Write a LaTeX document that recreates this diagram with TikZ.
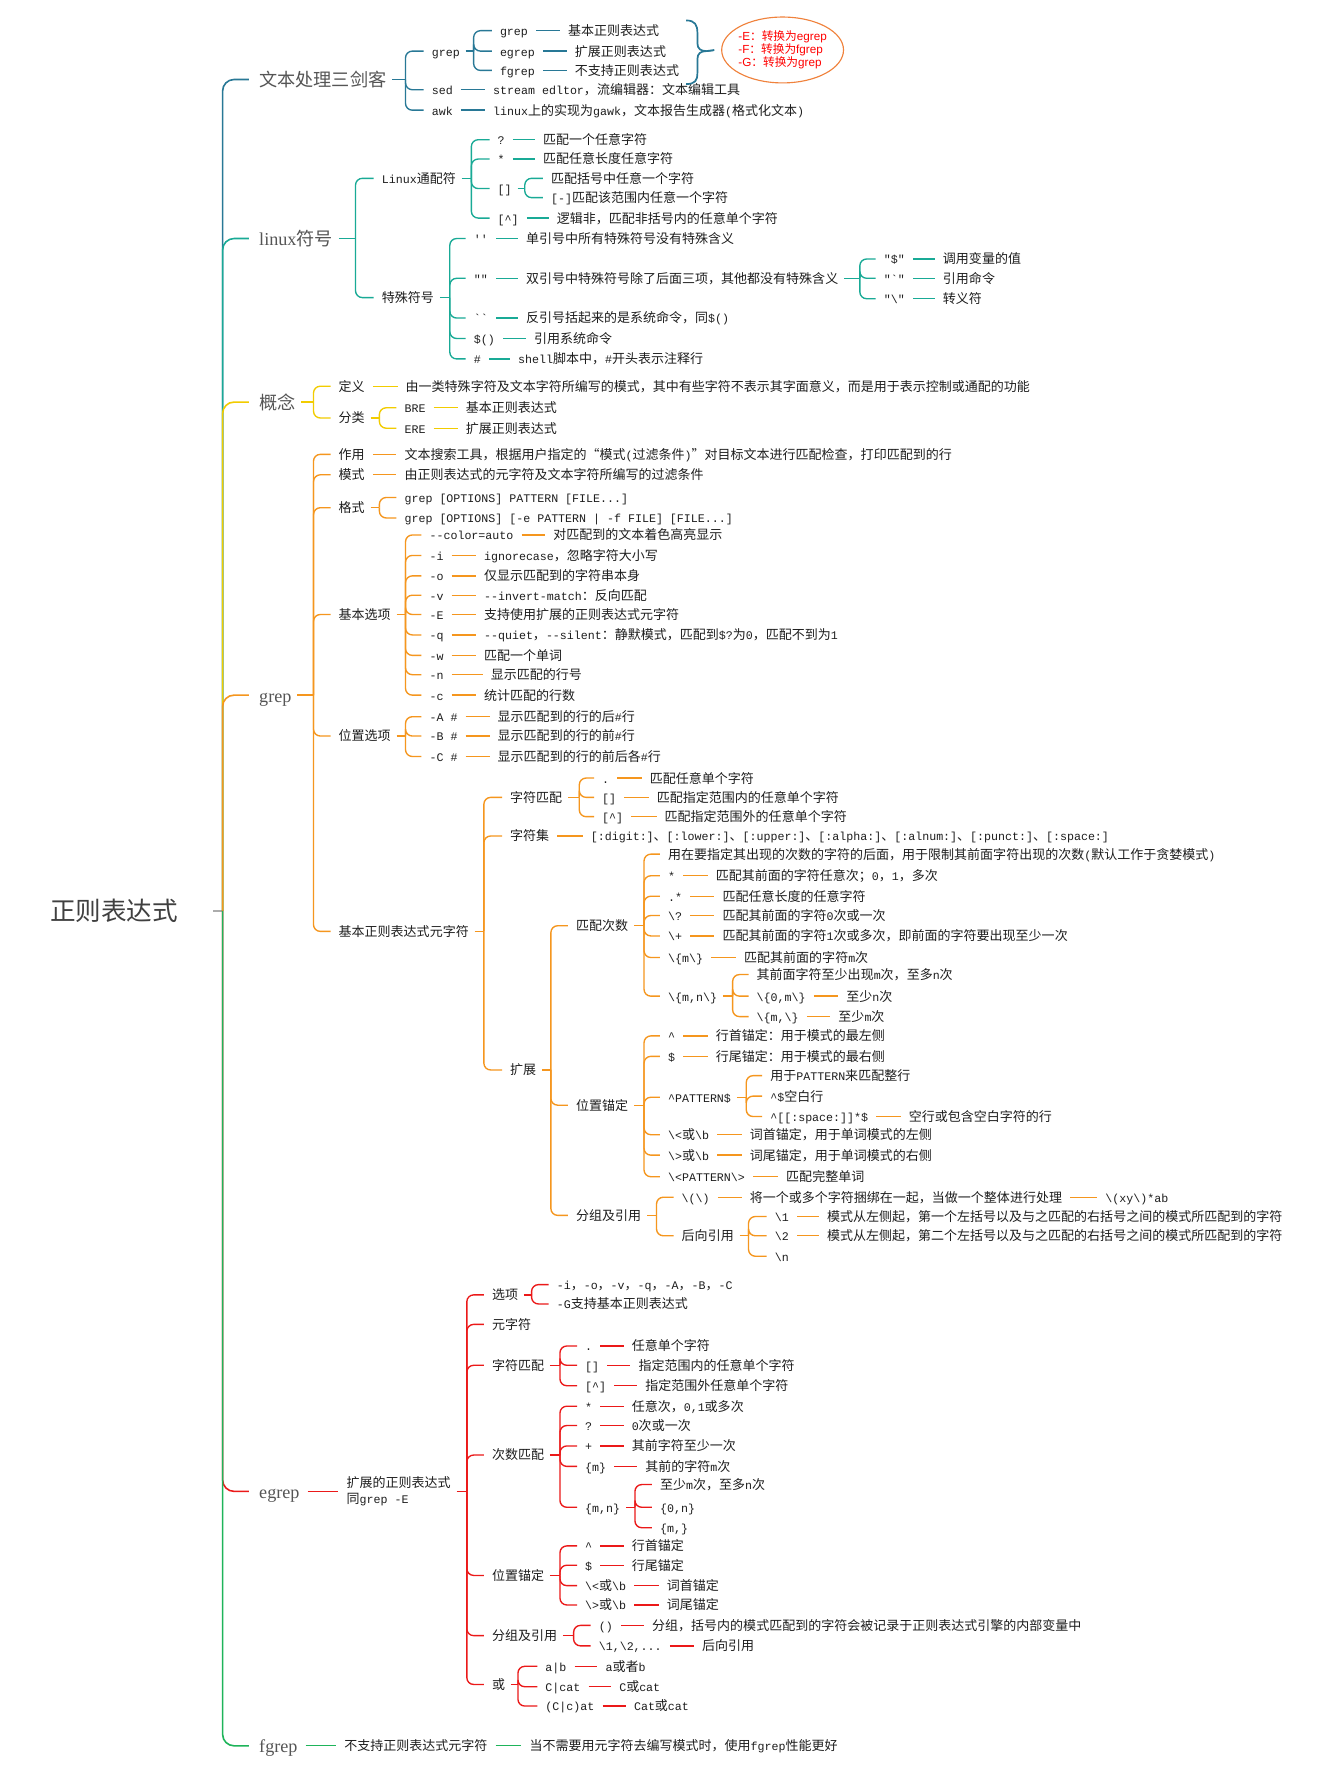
\documentclass[tikz,border=0pt]{standalone}
\usepackage{fontspec}
\setmainfont{Liberation Serif}
\setsansfont{Liberation Sans}
\setmonofont{Liberation Mono}[Scale=0.895]
\newfontfamily\cjkf{Noto Sans CJK SC}
\usetikzlibrary{shapes.geometric}
% automatic CJK / Latin font switching
\XeTeXinterchartokenstate=1
\newXeTeXintercharclass\CJKcls
\newcount\mycnt
\def\setcls#1#2{\mycnt=#1\relax\loop\XeTeXcharclass\mycnt=\CJKcls\relax\ifnum\mycnt<#2\relax\advance\mycnt by 1\repeat}
\setcls{"4E00}{"9FFF}
\setcls{"3000}{"303F}
\setcls{"FF00}{"FFEF}
\setcls{"2018}{"201F}
\mycnt="21\relax
\loop\XeTeXcharclass\mycnt=0\relax\ifnum\mycnt<"7E\relax\advance\mycnt by 1\repeat
\def\latf{\ttfamily}
\XeTeXinterchartoks 0 \CJKcls = {\cjkf}
\XeTeXinterchartoks 4095 \CJKcls = {\cjkf}
\XeTeXinterchartoks \CJKcls 0 = {\latf}
\XeTeXinterchartoks 4095 0 = {\latf}
\newcommand\zbs{\textbackslash}
\newcommand\zlb{\textbraceleft}
\newcommand\zrb{\textbraceright}
\newcommand\zci{\textasciicircum}
\newcommand\leaffont{\def\latf{\ttfamily}\fontsize{11.45}{13.5}\selectfont}
\newcommand\mainfnt{\def\latf{\rmfamily}\fontsize{16}{19}\selectfont}
\newcommand\rootfnt{\def\latf{\rmfamily}\fontsize{22.5}{26}\selectfont}
\newcommand\ellfnt{\def\latf{\sffamily}\fontsize{10.3}{11.3}\selectfont}
\definecolor{cA}{RGB}{40,120,150}
\definecolor{cB}{RGB}{25,170,150}
\definecolor{cC}{RGB}{242,204,0}
\definecolor{cD}{RGB}{245,150,30}
\definecolor{cE}{RGB}{235,25,25}
\definecolor{cF}{RGB}{30,180,90}
\definecolor{txt}{RGB}{30,30,30}
\definecolor{mgray}{RGB}{85,85,85}
\definecolor{rgray}{RGB}{64,64,64}
\definecolor{eo}{RGB}{240,130,60}
\tikzset{
 lf/.style={anchor=west, inner sep=0pt, text height=10.1pt, text depth=1.4pt, font=\leaffont, text=txt},
 lftwo/.style={anchor=west, inner sep=0pt, align=left, font=\leaffont, text=txt},
 mainlbl/.style={anchor=west, inner sep=0pt, text height=14.1pt, text depth=1.9pt, font=\mainfnt, text=mgray},
 rootlbl/.style={anchor=west, inner sep=0pt, text height=19.8pt, text depth=2.7pt, font=\rootfnt, text=rgray},
 conn/.style={draw=\brc, line width=1.2pt},
}
\newcommand\Nd[4]{\node[lf] (#1) at (#2,#3) {#4};}
\newcommand\lk[2]{\draw[conn] ([xshift=7pt]#1.east) -- ([xshift=-7pt]#2.west);}
\newcommand\fork[3]{%
  \coordinate (tmpbx) at (#2,0);
  \coordinate (#1-b) at (#1.east -| tmpbx);
  \draw[conn] ([xshift=5pt]#1.east) -- (#1-b);
  \foreach \kidname in {#3}{\draw[conn,rounded corners=6pt] (#1-b) |- ([xshift=-7pt]\kidname.west);}%
}
\begin{document}
\begin{tikzpicture}[x=1pt,y=-1pt]
\useasboundingbox (0,0) rectangle (1159,1568);
\fill[white] (0,0) rectangle (1159,1568);
% root and main branches
\node[rootlbl] (root) at (44,802) {正则表达式};
\coordinate (trunk) at (196,802);
\node[mainlbl] (m1) at (228,70) {文本处理三剑客};
\node[mainlbl] (m2) at (228,210) {linux符号};
\node[mainlbl] (m3) at (228,354) {概念};
\node[mainlbl] (m4) at (228,612) {grep};
\node[mainlbl] (m5) at (228,1313) {egrep};
\node[mainlbl] (m6) at (228,1537) {fgrep};
\draw[line width=1.4pt, draw=gray!65] ([xshift=31pt]root.east) -- (trunk);
\foreach \i/\cl in {1/cA,2/cB,3/cC,4/cD,5/cE,6/cF}
  \draw[line width=1.4pt, draw=\cl, rounded corners=10pt] (trunk) |- ([xshift=-9pt]m\i.west);

% ---------- 文本处理三剑客
\def\brc{cA}
\Nd{a1}{380}{45}{grep}
\Nd{a2}{380}{79}{sed}
\Nd{a3}{380}{97}{awk}
\fork{m1}{357}{a1,a2,a3}
\Nd{b1}{440}{27}{grep}
\Nd{b2}{440}{45}{egrep}
\Nd{b3}{440}{62}{fgrep}
\fork{a1}{417}{b1,b2,b3}
\Nd{b1l}{500}{27}{基本正则表达式} \lk{b1}{b1l}
\Nd{b2l}{506}{45}{扩展正则表达式} \lk{b2}{b2l}
\Nd{b3l}{506}{62}{不支持正则表达式} \lk{b3}{b3l}
\Nd{a2l}{434}{79}{stream edltor，流编辑器：文本编辑工具} \lk{a2}{a2l}
\Nd{a3l}{434}{97}{linux上的实现为gawk，文本报告生成器(格式化文本)} \lk{a3}{a3l}
\draw[draw=cA, line width=1.5pt] (604,18) .. controls (612,18) and (614,22) .. (614,29) -- (614,38) .. controls (614,43) and (617,45) .. (622,45) .. controls (617,45) and (614,47) .. (614,52) -- (614,64) .. controls (614,71) and (612,74) .. (604,74);
\coordinate (btip) at (622,45);
\node[ellipse, draw=eo, line width=1pt, fill=white, minimum width=102pt, minimum height=58pt, inner sep=-1pt, align=left, font=\ellfnt, text=red] (ell) at (689,44) {-E：转换为egrep\\-F：转换为fgrep\\-G：转换为grep};
\draw[draw=cA, line width=1.5pt] (btip) -- ([xshift=-6pt]ell.west);

% ---------- linux符号
\def\brc{cB}
\Nd{c1}{336}{157}{Linux通配符}
\Nd{c2}{336}{262}{特殊符号}
\fork{m2}{313}{c1,c2}
\Nd{d1}{438}{123}{?}
\Nd{d2}{438}{140}{*}
\Nd{d3}{438}{166}{[]}
\Nd{d4}{438}{192}{[\zci]}
\fork{c1}{415}{d1,d2,d3,d4}
\Nd{d1l}{478}{123}{匹配一个任意字符} \lk{d1}{d1l}
\Nd{d2l}{478}{140}{匹配任意长度任意字符} \lk{d2}{d2l}
\Nd{d3a}{485}{157}{匹配括号中任意一个字符}
\Nd{d3b}{485}{174}{[-]匹配该范围内任意一个字符}
\fork{d3}{462}{d3a,d3b}
\Nd{d4l}{490}{192}{逻辑非，匹配非括号内的任意单个字符} \lk{d4}{d4l}
\Nd{e1}{417}{210}{''}
\Nd{e2}{417}{245}{""}
\Nd{e3}{417}{280}{``}
\Nd{e4}{417}{298}{\$()}
\Nd{e5}{417}{316}{\#}
\fork{c2}{396}{e1,e2,e3,e4,e5}
\Nd{e1l}{463}{210}{单引号中所有特殊符号没有特殊含义} \lk{e1}{e1l}
\Nd{e2l}{463}{245}{双引号中特殊符号除了后面三项，其他都没有特殊含义} \lk{e2}{e2l}
\Nd{e3l}{463}{280}{反引号括起来的是系统命令，同\$()} \lk{e3}{e3l}
\Nd{e4l}{470}{298}{引用系统命令} \lk{e4}{e4l}
\Nd{e5l}{456}{316}{shell脚本中，\#开头表示注释行} \lk{e5}{e5l}
\Nd{f1}{778}{228}{"\$"}
\Nd{f2}{778}{245}{"`"}
\Nd{f3}{778}{263}{"\zbs"}
\fork{e2l}{757}{f1,f2,f3}
\Nd{f1l}{830}{228}{调用变量的值} \lk{f1}{f1l}
\Nd{f2l}{830}{245}{引用命令} \lk{f2}{f2l}
\Nd{f3l}{830}{263}{转义符} \lk{f3}{f3l}

% ---------- 概念
\def\brc{cC}
\Nd{g1}{298}{340}{定义}
\Nd{g2}{298}{368}{分类}
\fork{m3}{276}{g1,g2}
\Nd{g1l}{357}{340}{由一类特殊字符及文本字符所编写的模式，其中有些字符不表示其字面意义，而是用于表示控制或通配的功能} \lk{g1}{g1l}
\Nd{h1}{356}{359}{BRE}
\Nd{h2}{356}{377}{ERE}
\fork{g2}{334}{h1,h2}
\Nd{h1l}{410}{359}{基本正则表达式} \lk{h1}{h1l}
\Nd{h2l}{410}{377}{扩展正则表达式} \lk{h2}{h2l}

% ---------- grep
\def\brc{cD}
\Nd{i1}{298}{400}{作用}
\Nd{i2}{298}{418}{模式}
\Nd{i3}{298}{447}{格式}
\Nd{i4}{298}{541}{基本选项}
\Nd{i5}{298}{648}{位置选项}
\Nd{i6}{298}{820}{基本正则表达式元字符}
\fork{m4}{276}{i1,i2,i3,i4,i5,i6}
\Nd{i1l}{356}{400}{文本搜索工具，根据用户指定的“模式(过滤条件)”对目标文本进行匹配检查，打印匹配到的行} \lk{i1}{i1l}
\Nd{i2l}{356}{418}{由正则表达式的元字符及文本字符所编写的过滤条件} \lk{i2}{i2l}
\Nd{j1}{356}{438}{grep [OPTIONS] PATTERN [FILE...]}
\Nd{j2}{356}{456}{grep [OPTIONS] [-e PATTERN | -f FILE] [FILE...]}
\fork{i3}{334}{j1,j2}
\Nd{k1}{378}{471}{--color=auto}
\Nd{k2}{378}{489}{-i}
\Nd{k3}{378}{507}{-o}
\Nd{k4}{378}{524}{-v}
\Nd{k5}{378}{541}{-E}
\Nd{k6}{378}{559}{-q}
\Nd{k7}{378}{577}{-w}
\Nd{k8}{378}{594}{-n}
\Nd{k9}{378}{612}{-c}
\fork{i4}{357}{k1,k2,k3,k4,k5,k6,k7,k8,k9}
\Nd{k1l}{487}{471}{对匹配到的文本着色高亮显示} \lk{k1}{k1l}
\Nd{k2l}{426}{489}{ignorecase，忽略字符大小写} \lk{k2}{k2l}
\Nd{k3l}{426}{507}{仅显示匹配到的字符串本身} \lk{k3}{k3l}
\Nd{k4l}{426}{524}{--invert-match：反向匹配} \lk{k4}{k4l}
\Nd{k5l}{426}{541}{支持使用扩展的正则表达式元字符} \lk{k5}{k5l}
\Nd{k6l}{426}{559}{--quiet，--silent：静默模式，匹配到\$?为0，匹配不到为1} \lk{k6}{k6l}
\Nd{k7l}{426}{577}{匹配一个单词} \lk{k7}{k7l}
\Nd{k8l}{432}{594}{显示匹配的行号} \lk{k8}{k8l}
\Nd{k9l}{426}{612}{统计匹配的行数} \lk{k9}{k9l}
\Nd{p1}{378}{631}{-A \#}
\Nd{p2}{378}{648}{-B \#}
\Nd{p3}{378}{666}{-C \#}
\fork{i5}{357}{p1,p2,p3}
\Nd{p1l}{438}{631}{显示匹配到的行的后\#行} \lk{p1}{p1l}
\Nd{p2l}{438}{648}{显示匹配到的行的前\#行} \lk{p2}{p2l}
\Nd{p3l}{438}{666}{显示匹配到的行的前后各\#行} \lk{p3}{p3l}
\Nd{q1}{449}{702}{字符匹配}
\Nd{q2}{449}{736}{字符集}
\Nd{q3}{449}{942}{扩展}
\fork{i6}{426}{q1,q2,q3}
\Nd{r1}{530}{685}{.}
\Nd{r2}{530}{702}{[]}
\Nd{r3}{530}{719}{[\zci]}
\fork{q1}{510}{r1,r2,r3}
\Nd{r1l}{572}{685}{匹配任意单个字符} \lk{r1}{r1l}
\Nd{r2l}{578}{702}{匹配指定范围内的任意单个字符} \lk{r2}{r2l}
\Nd{r3l}{585}{719}{匹配指定范围外的任意单个字符} \lk{r3}{r3l}
\Nd{q2l}{520}{736}{[:digit:]、[:lower:]、[:upper:]、[:alpha:]、[:alnum:]、[:punct:]、[:space:]} \lk{q2}{q2l}
\Nd{s1}{507}{815}{匹配次数}
\Nd{s2}{507}{973}{位置锚定}
\Nd{s3}{507}{1070}{分组及引用}
\fork{q3}{485}{s1,s2,s3}
\Nd{t0}{588}{752}{用在要指定其出现的次数的字符的后面，用于限制其前面字符出现的次数(默认工作于贪婪模式)}
\Nd{t1}{588}{771}{*}
\Nd{t2}{588}{789}{.*}
\Nd{t3}{588}{806}{\zbs?}
\Nd{t4}{588}{824}{\zbs+}
\Nd{t5}{588}{843}{\zbs\zlb m\zbs\zrb}
\Nd{t6}{588}{877}{\zbs\zlb m,n\zbs\zrb}
\fork{s1}{567}{t0,t1,t2,t3,t4,t5,t6}
\Nd{t1l}{630}{771}{匹配其前面的字符任意次；0，1，多次} \lk{t1}{t1l}
\Nd{t2l}{636}{789}{匹配任意长度的任意字符} \lk{t2}{t2l}
\Nd{t3l}{636}{806}{匹配其前面的字符0次或一次} \lk{t3}{t3l}
\Nd{t4l}{636}{824}{匹配其前面的字符1次或多次，即前面的字符要出现至少一次} \lk{t4}{t4l}
\Nd{t5l}{655}{843}{匹配其前面的字符m次} \lk{t5}{t5l}
\Nd{u1}{666}{858}{其前面字符至少出现m次，至多n次}
\Nd{u2}{666}{877}{\zbs\zlb 0,m\zbs\zrb}
\Nd{u3}{666}{895}{\zbs\zlb m,\zbs\zrb}
\fork{t6}{645}{u1,u2,u3}
\Nd{u2l}{745}{877}{至少n次} \lk{u2}{u2l}
\Nd{u3l}{738}{895}{至少m次} \lk{u3}{u3l}
\Nd{v1}{588}{912}{\zci}
\Nd{v2}{588}{930}{\$}
\Nd{v3}{588}{966}{\zci PATTERN\$}
\Nd{v4}{588}{999}{\zbs<或\zbs b}
\Nd{v5}{588}{1017}{\zbs>或\zbs b}
\Nd{v6}{588}{1036}{\zbs<PATTERN\zbs>}
\fork{s2}{567}{v1,v2,v3,v4,v5,v6}
\Nd{v1l}{630}{912}{行首锚定：用于模式的最左侧} \lk{v1}{v1l}
\Nd{v2l}{630}{930}{行尾锚定：用于模式的最右侧} \lk{v2}{v2l}
\Nd{v4l}{660}{999}{词首锚定，用于单词模式的左侧} \lk{v4}{v4l}
\Nd{v5l}{660}{1017}{词尾锚定，用于单词模式的右侧} \lk{v5}{v5l}
\Nd{v6l}{692}{1036}{匹配完整单词} \lk{v6}{v6l}
\Nd{w1}{678}{947}{用于PATTERN来匹配整行}
\Nd{w2}{678}{965}{\zci\$空白行}
\Nd{w3}{678}{983}{\zci[[:space:]]*\$}
\fork{v3}{657}{w1,w2,w3}
\Nd{w3l}{800}{983}{空行或包含空白字符的行} \lk{w3}{w3l}
\Nd{x1}{600}{1054}{\zbs(\zbs)}
\Nd{x2}{600}{1088}{后向引用}
\fork{s3}{578}{x1,x2}
\Nd{x1l}{660}{1054}{将一个或多个字符捆绑在一起，当做一个整体进行处理} \lk{x1}{x1l}
\Nd{x1m}{973}{1054}{\zbs(xy\zbs)*ab} \lk{x1l}{x1m}
\Nd{y1}{682}{1071}{\zbs 1}
\Nd{y2}{682}{1088}{\zbs 2}
\Nd{y3}{682}{1106}{\zbs n}
\fork{x2}{659}{y1,y2,y3}
\Nd{y1l}{728}{1071}{模式从左侧起，第一个左括号以及与之匹配的右括号之间的模式所匹配到的字符} \lk{y1}{y1l}
\Nd{y2l}{728}{1088}{模式从左侧起，第二个左括号以及与之匹配的右括号之间的模式所匹配到的字符} \lk{y2}{y2l}

% ---------- egrep
\def\brc{cE}
\node[lftwo] (eg) at (305,1313) {扩展的正则表达式\\同grep -E};
\lk{m5}{eg}
\Nd{n1}{433}{1140}{选项}
\Nd{n2}{433}{1166}{元字符}
\Nd{n3}{433}{1202}{字符匹配}
\Nd{n4}{433}{1281}{次数匹配}
\Nd{n5}{433}{1387}{位置锚定}
\Nd{n6}{433}{1440}{分组及引用}
\Nd{n7}{433}{1483}{或}
\fork{eg}{411}{n1,n2,n3,n4,n5,n6,n7}
\Nd{o1}{490}{1131}{-i，-o，-v，-q，-A，-B，-C}
\Nd{o2}{490}{1148}{-G支持基本正则表达式}
\fork{n1}{468}{o1,o2}
\Nd{o3}{515}{1185}{.}
\Nd{o4}{515}{1202}{[]}
\Nd{o5}{515}{1220}{[\zci]}
\fork{n3}{493}{o3,o4,o5}
\Nd{o3l}{556}{1185}{任意单个字符} \lk{o3}{o3l}
\Nd{o4l}{562}{1202}{指定范围内的任意单个字符} \lk{o4}{o4l}
\Nd{o5l}{568}{1220}{指定范围外任意单个字符} \lk{o5}{o5l}
\Nd{z1}{515}{1238}{*}
\Nd{z2}{515}{1255}{?}
\Nd{z3}{515}{1273}{+}
\Nd{z4}{515}{1291}{\zlb m\zrb}
\Nd{z5}{515}{1327}{\zlb m,n\zrb}
\fork{n4}{493}{z1,z2,z3,z4,z5}
\Nd{z1l}{556}{1238}{任意次，0,1或多次} \lk{z1}{z1l}
\Nd{z2l}{556}{1255}{0次或一次} \lk{z2}{z2l}
\Nd{z3l}{556}{1273}{其前字符至少一次} \lk{z3}{z3l}
\Nd{z4l}{568}{1291}{其前的字符m次} \lk{z4}{z4l}
\Nd{zz1}{581}{1307}{至少m次，至多n次}
\Nd{zz2}{581}{1327}{\zlb 0,n\zrb}
\Nd{zz3}{581}{1345}{\zlb m,\zrb}
\fork{z5}{559}{zz1,zz2,zz3}
\Nd{aa1}{515}{1361}{\zci}
\Nd{aa2}{515}{1378}{\$}
\Nd{aa3}{515}{1396}{\zbs<或\zbs b}
\Nd{aa4}{515}{1413}{\zbs>或\zbs b}
\fork{n5}{493}{aa1,aa2,aa3,aa4}
\Nd{aa1l}{556}{1361}{行首锚定} \lk{aa1}{aa1l}
\Nd{aa2l}{556}{1378}{行尾锚定} \lk{aa2}{aa2l}
\Nd{aa3l}{587}{1396}{词首锚定} \lk{aa3}{aa3l}
\Nd{aa4l}{587}{1413}{词尾锚定} \lk{aa4}{aa4l}
\Nd{bb1}{527}{1431}{()}
\Nd{bb2}{527}{1449}{\zbs 1,\zbs 2,...}
\fork{n6}{505}{bb1,bb2}
\Nd{bb1l}{574}{1431}{分组，括号内的模式匹配到的字符会被记录于正则表达式引擎的内部变量中} \lk{bb1}{bb1l}
\Nd{bb2l}{618}{1449}{后向引用} \lk{bb2}{bb2l}
\Nd{cc1}{480}{1467}{a|b}
\Nd{cc2}{480}{1485}{C|cat}
\Nd{cc3}{480}{1502}{(C|c)at}
\fork{n7}{456}{cc1,cc2,cc3}
\Nd{cc1l}{533}{1467}{a或者b} \lk{cc1}{cc1l}
\Nd{cc2l}{545}{1485}{C或cat} \lk{cc2}{cc2l}
\Nd{cc3l}{558}{1502}{Cat或cat} \lk{cc3}{cc3l}

% ---------- fgrep
\def\brc{cF}
\Nd{dd1}{303}{1537}{不支持正则表达式元字符} \lk{m6}{dd1}
\Nd{dd2}{466}{1537}{当不需要用元字符去编写模式时，使用fgrep性能更好} \lk{dd1}{dd2}
\end{tikzpicture}
\end{document}
